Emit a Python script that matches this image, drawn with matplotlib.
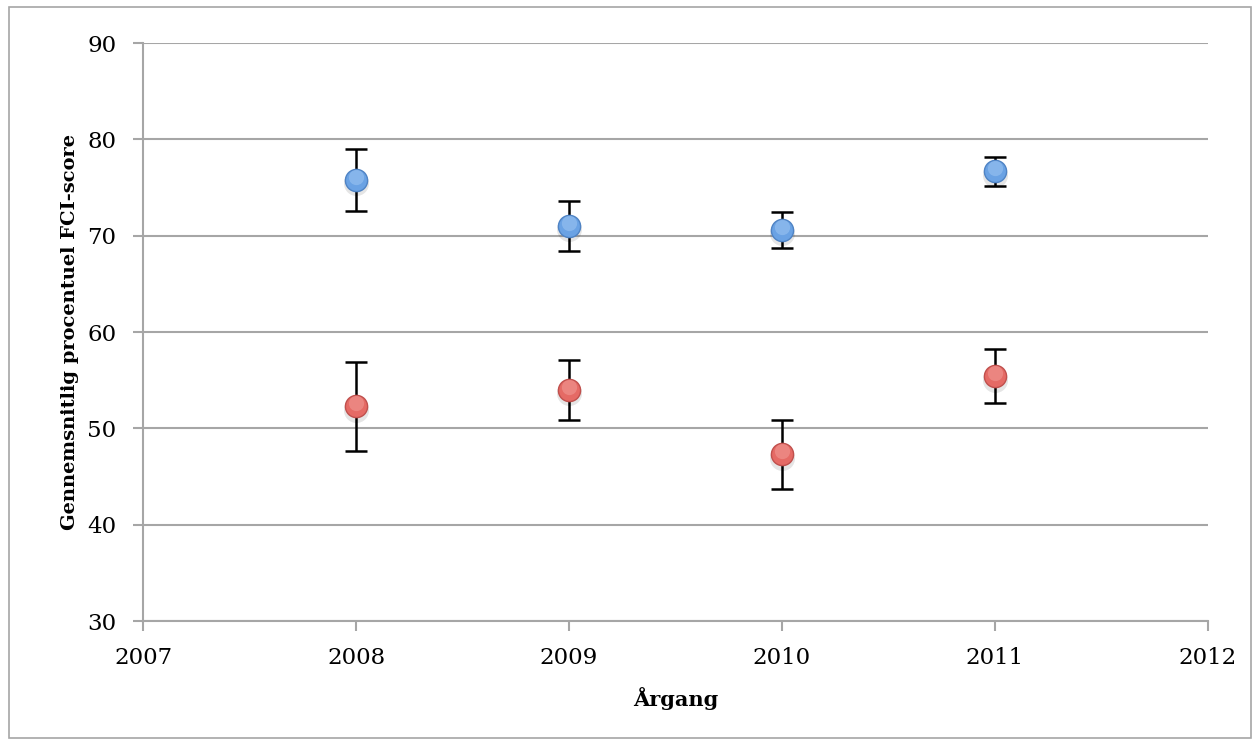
import matplotlib
matplotlib.use('Agg')
import matplotlib.pyplot as plt
from matplotlib.patches import Rectangle

# Data
years = [2008, 2009, 2010, 2011]
blue_mean = [75.8, 71.0, 70.6, 76.7]
blue_err = [3.2, 2.6, 1.9, 1.5]
red_mean = [52.3, 54.0, 47.3, 55.4]
red_err = [4.6, 3.1, 3.6, 2.8]

plt.rcParams['font.family'] = ['DejaVu Serif']

fig = plt.figure(figsize=(12.6, 7.44), dpi=100)
ax = fig.add_axes([0.1135, 0.1653, 0.8452, 0.7769])

# Outer frame around the whole chart
fig.patches.append(Rectangle((0.007, 0.008), 0.986, 0.982, transform=fig.transFigure,
                             fill=False, edgecolor='#a6a6a6', lw=1.2))

def series(mean, err, face, edge, light):
    ax.errorbar(years, mean, yerr=err, fmt='none', ecolor='black',
                elinewidth=1.8, capsize=8, capthick=1.8, zorder=3)
    # soft shadow
    ax.plot(years, [m - 0.35 for m in mean], 'o', ms=18, color='#000000',
            alpha=0.10, mec='none', zorder=4)
    ax.plot(years, mean, 'o', ms=16, mfc=face, mec=edge, mew=1.0, zorder=5)
    # lighter top for a gradient look
    ax.plot(years, [m + 0.3 for m in mean], 'o', ms=11, mfc=light,
            mec='none', alpha=0.45, zorder=6)

series(blue_mean, blue_err, '#6aa2e4', '#4f83c4', '#a9cdf5')
series(red_mean, red_err, '#e56a65', '#c0504d', '#f4a6a2')

ax.set_xlim(2007, 2012)
ax.set_ylim(30, 90)
ax.set_xticks([2007, 2008, 2009, 2010, 2011, 2012])
ax.set_yticks(range(30, 91, 10))
ax.yaxis.grid(True, color='#a6a6a6', lw=1.5)
ax.set_axisbelow(True)

for s in ['top', 'right']:
    ax.spines[s].set_visible(False)
for s in ['left', 'bottom']:
    ax.spines[s].set_color('#a6a6a6')
    ax.spines[s].set_linewidth(1.5)
ax.tick_params(axis='both', colors='#a6a6a6', length=7, width=1.5,
               labelsize=16.5, labelcolor='black')
ax.tick_params(axis='x', pad=12)
ax.tick_params(axis='y', pad=12)

ax.set_xlabel('Årgang', fontsize=15, fontweight='bold', labelpad=13)
ax.set_ylabel('Gennemsnitlig procentuel FCI-score', fontsize=14,
              fontweight='bold', labelpad=6)

fig.savefig('out.png', dpi=100)
